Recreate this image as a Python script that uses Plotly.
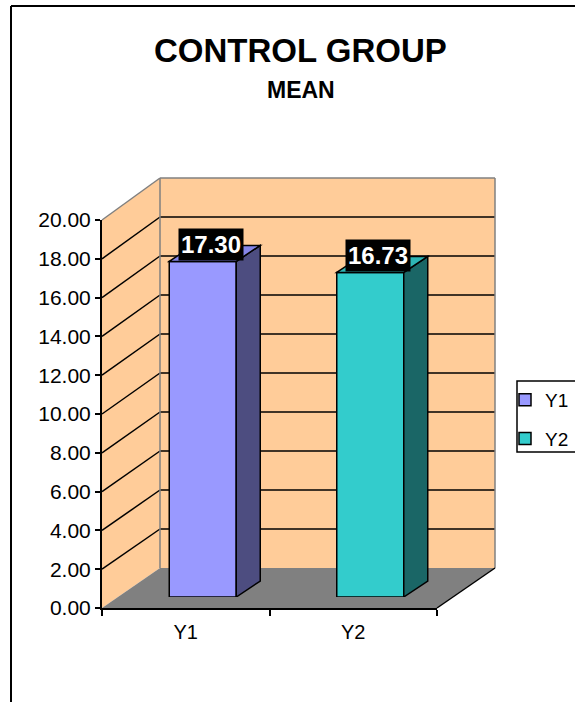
import plotly.graph_objects as go

# ---------------- data ----------------
CATEGORIES = ["Y1", "Y2"]
MEANS = [17.30, 16.73]
Y_TICKS = [0, 2, 4, 6, 8, 10, 12, 14, 16, 18, 20]
TITLE = "CONTROL GROUP"
SUBTITLE = "MEAN"

# ---------------- styles ----------------
FRONT_COLORS = ["#9999FF", "#33CCCC"]
SIDE_COLORS = ["#4D4D80", "#1A6666"]
TOP_COLORS = ["#8585E8", "#2EB5B5"]
WALL = "#FFCC99"
FLOOR = "#808080"
FONT = "Liberation Sans, Arial, sans-serif"

W, H = 575, 702


def fx(p):
    return p / W


def fy(p):
    return 1 - p / H


# geometry (pixels)
FX0, FX1, FY0, FYTOP = 102, 437, 608, 220      # front axis plane
BX0, BX1, BY0, BYTOP = 160, 495, 568, 178      # back wall plane
PX_OFF, PY_OFF = 17, 11                        # bar plane offset
YMAX = 20
BAR_W = 0.4
DEPTH_PX_X, DEPTH_PX_Y = 24, 16

bar_xscale = (FX1 - FX0) / len(CATEGORIES)     # px per unit on x2
bar_yscale = (FY0 - FYTOP) / YMAX              # px per unit on y2
DX = DEPTH_PX_X / bar_xscale
DY = DEPTH_PX_Y / bar_yscale


def y_front(v):
    return FY0 - (FY0 - FYTOP) * v / YMAX


def y_back(v):
    return BY0 - (BY0 - BYTOP) * v / YMAX


fig = go.Figure()

# dummy trace to give the front x axis its categories
fig.add_trace(go.Scatter(x=CATEGORIES, y=[0] * len(CATEGORIES), mode="markers",
                         marker=dict(opacity=0), showlegend=False, hoverinfo="skip",
                         xaxis="x", yaxis="y"))

for i, (cat, v) in enumerate(zip(CATEGORIES, MEANS)):
    fig.add_trace(go.Bar(x=[i], y=[v], name=cat, width=BAR_W,
                         marker=dict(color=FRONT_COLORS[i], line=dict(color="black", width=1.5)),
                         xaxis="x2", yaxis="y2", legendgroup=cat))

shapes = []
# walls and floor
shapes.append(dict(type="path", xref="paper", yref="paper", layer="below",
                   path=f"M {fx(BX0)},{fy(BY0)} L {fx(BX1)},{fy(BY0)} L {fx(BX1)},{fy(BYTOP)} L {fx(BX0)},{fy(BYTOP)} Z",
                   fillcolor=WALL, line=dict(width=0)))
shapes.append(dict(type="path", xref="paper", yref="paper", layer="below",
                   path=f"M {fx(FX0)},{fy(FY0)} L {fx(BX0)},{fy(BY0)} L {fx(BX0)},{fy(BYTOP)} L {fx(FX0)},{fy(FYTOP)} Z",
                   fillcolor=WALL, line=dict(width=0)))
shapes.append(dict(type="path", xref="paper", yref="paper", layer="below",
                   path=f"M {fx(FX0)},{fy(FY0)} L {fx(FX1)},{fy(FY0)} L {fx(BX1)},{fy(BY0)} L {fx(BX0)},{fy(BY0)} Z",
                   fillcolor=FLOOR, line=dict(width=0)))
# gridlines
for v in Y_TICKS[1:-1]:
    shapes.append(dict(type="line", xref="paper", yref="paper", layer="below",
                       x0=fx(BX0), x1=fx(BX1), y0=fy(y_back(v)), y1=fy(y_back(v)),
                       line=dict(color="black", width=1.5)))
    shapes.append(dict(type="line", xref="paper", yref="paper", layer="below",
                       x0=fx(FX0), x1=fx(BX0), y0=fy(y_front(v)), y1=fy(y_back(v)),
                       line=dict(color="black", width=1.5)))
# wall edges (gray)
for (x0, y0, x1, y1) in [(FX0, FYTOP, BX0, BYTOP), (BX0, BYTOP, BX1, BYTOP),
                         (BX1, BYTOP, BX1, BY0), (BX0, BYTOP, BX0, BY0)]:
    shapes.append(dict(type="line", xref="paper", yref="paper", layer="below",
                       x0=fx(x0), x1=fx(x1), y0=fy(y0), y1=fy(y1),
                       line=dict(color="#808080", width=1.5)))
# floor right edge (black)
shapes.append(dict(type="line", xref="paper", yref="paper", layer="below",
                   x0=fx(FX1), x1=fx(BX1), y0=fy(FY0), y1=fy(BY0),
                   line=dict(color="black", width=1.5)))

# bar side + top faces (in bar-plane data units)
for i, v in enumerate(MEANS):
    xl, xr = i - BAR_W / 2, i + BAR_W / 2
    shapes.append(dict(type="path", xref="x2", yref="y2", layer="above",
                       path=f"M {xr},0 L {xr + DX},{DY} L {xr + DX},{v + DY} L {xr},{v} Z",
                       fillcolor=SIDE_COLORS[i], line=dict(color="black", width=1.5)))
    shapes.append(dict(type="path", xref="x2", yref="y2", layer="above",
                       path=f"M {xl},{v} L {xl + DX},{v + DY} L {xr + DX},{v + DY} L {xr},{v} Z",
                       fillcolor=TOP_COLORS[i], line=dict(color="black", width=1.5)))

# outer chart border
shapes.append(dict(type="line", xref="paper", yref="paper", x0=fx(11), x1=fx(11), y0=fy(6), y1=fy(720),
                   line=dict(color="black", width=2)))
shapes.append(dict(type="line", xref="paper", yref="paper", x0=fx(11), x1=fx(600), y0=fy(6), y1=fy(6),
                   line=dict(color="black", width=2)))
# legend frame
shapes.append(dict(type="rect", xref="paper", yref="paper", x0=fx(517), x1=fx(600), y0=fy(452), y1=fy(381),
                   fillcolor="white", line=dict(color="black", width=1.5)))

annotations = [
    dict(text=TITLE, xref="paper", yref="paper", x=fx(300), y=fy(51), showarrow=False,
         xanchor="center", yanchor="middle", font=dict(family=FONT, size=33, color="black", weight="bold")),
    dict(text=SUBTITLE, xref="paper", yref="paper", x=fx(301), y=fy(90), showarrow=False,
         xanchor="center", yanchor="middle", font=dict(family=FONT, size=23, color="black", weight="bold")),
]
for i, v in enumerate(MEANS):
    annotations.append(dict(text=f"{v:.2f}", xref="x2", yref="y2", x=i, y=v, showarrow=False,
                            xshift=8, yshift=17, xanchor="center", yanchor="middle",
                            bgcolor="black", borderpad=2,
                            font=dict(family=FONT, size=24, color="white", weight="bold")))

fig.update_layout(
    width=W, height=H, autosize=False,
    margin=dict(l=0, r=0, t=0, b=0, autoexpand=False),
    paper_bgcolor="white", plot_bgcolor="rgba(0,0,0,0)",
    barmode="overlay",
    font=dict(family=FONT, color="black", size=20),
    shapes=shapes, annotations=annotations,
    xaxis=dict(domain=[fx(FX0), fx(FX1)], type="category", range=[-0.5, 1.5], anchor="y",
               tickson="boundaries", ticks="outside", ticklen=6, tickwidth=1.5, tickcolor="black",
               showline=True, linecolor="black", linewidth=2, showgrid=False, zeroline=False,
               tickfont=dict(size=20), ticklabelstandoff=5),
    yaxis=dict(domain=[fy(FY0), fy(FYTOP)], range=[0, YMAX], anchor="x",
               tickvals=Y_TICKS, tickformat=".2f", ticks="outside", ticklen=5, tickwidth=1.5,
               tickcolor="black", showline=True, linecolor="black", linewidth=2,
               showgrid=False, zeroline=False, tickfont=dict(size=21)),
    xaxis2=dict(domain=[fx(FX0 + PX_OFF), fx(FX1 + PX_OFF)], range=[-0.5, 1.5], anchor="y2",
                visible=False),
    yaxis2=dict(domain=[fy(FY0 - PY_OFF), fy(FYTOP - PY_OFF)], range=[0, YMAX], anchor="x2",
                visible=False),
    legend=dict(x=fx(505), y=fy(381), xanchor="left", yanchor="top", bgcolor="rgba(0,0,0,0)",
                borderwidth=0, font=dict(size=19),
                traceorder="grouped", tracegroupgap=11, itemwidth=30),
    showlegend=True,
)

fig.write_html("out.html")
